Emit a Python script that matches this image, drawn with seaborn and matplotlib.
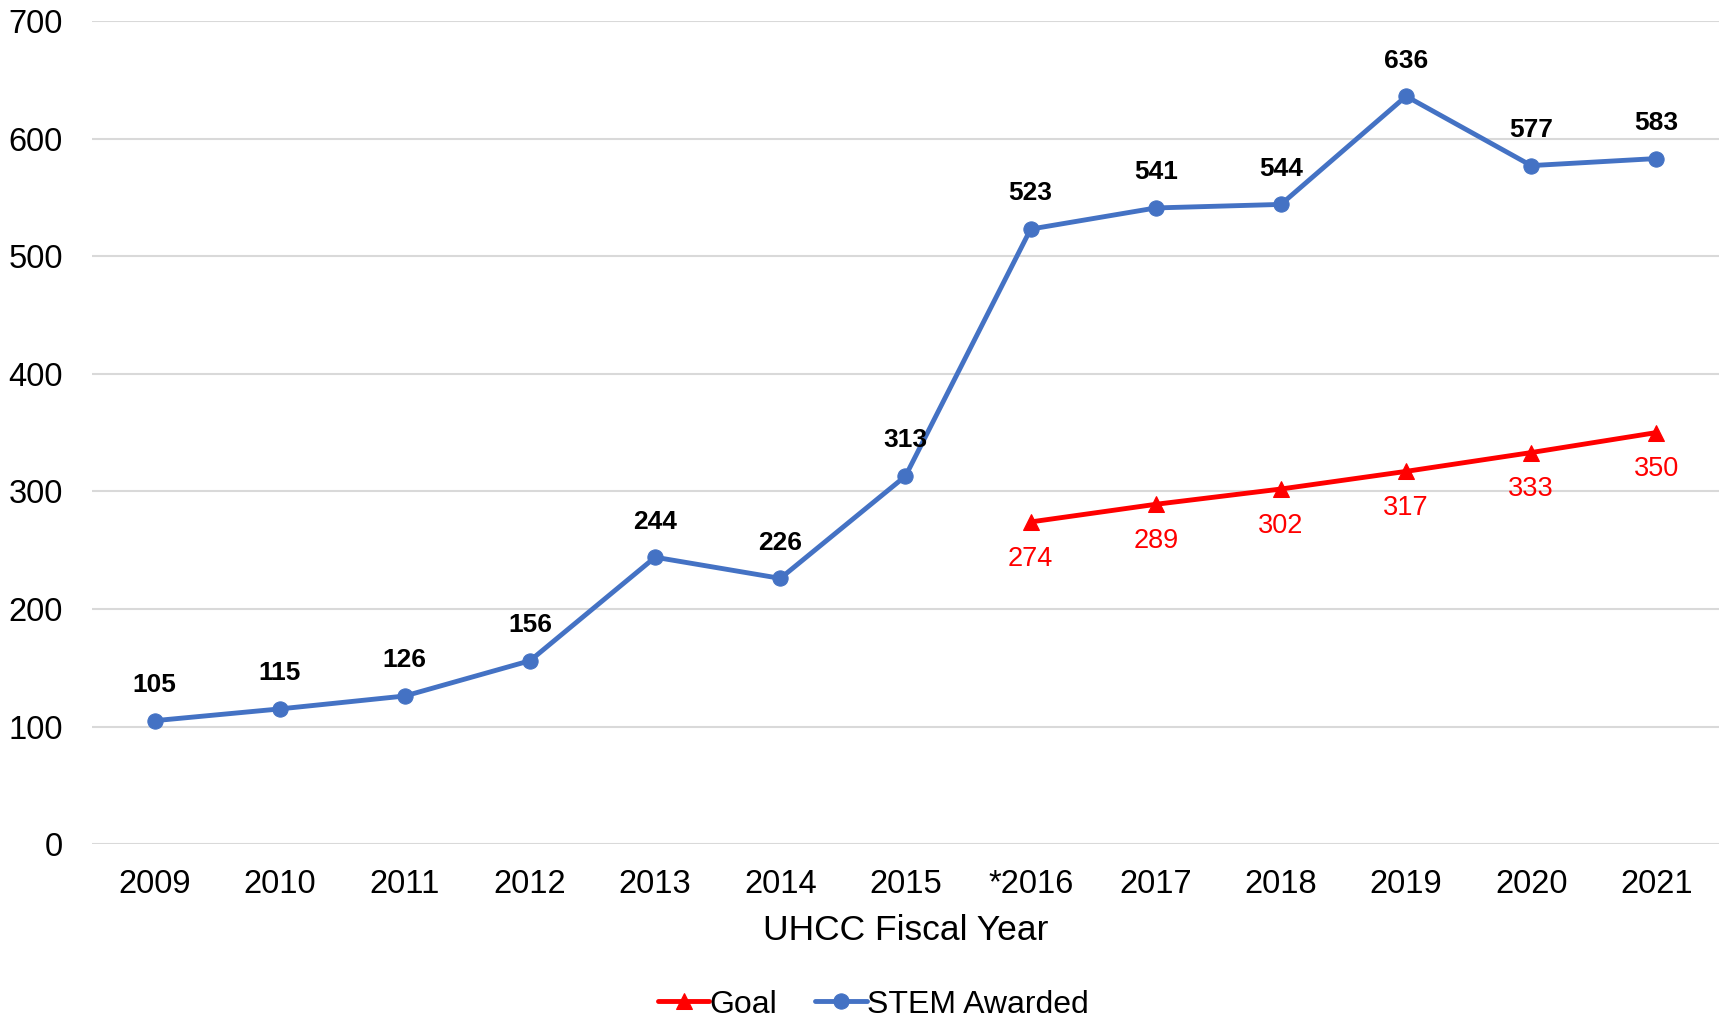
import numpy as np
import pandas as pd
import matplotlib
matplotlib.use("Agg")
import matplotlib.pyplot as plt
import seaborn as sns

years = ["2009", "2010", "2011", "2012", "2013", "2014", "2015",
         "*2016", "2017", "2018", "2019", "2020", "2021"]
stem = [105, 115, 126, 156, 244, 226, 313, 523, 541, 544, 636, 577, 583]
goal_years = ["*2016", "2017", "2018", "2019", "2020", "2021"]
goal = [274, 289, 302, 317, 333, 350]

blue = "#4472C4"
red = "#FF0000"

sns.set_style("white")
plt.rcParams['font.family'] = ['Liberation Sans', 'DejaVu Sans']
plt.rcParams['text.color'] = 'black'
plt.rcParams['xtick.color'] = 'black'
plt.rcParams['ytick.color'] = 'black'
plt.rcParams['axes.labelcolor'] = 'black'

pos = {y: i for i, y in enumerate(years)}
stem_df = pd.DataFrame({"x": [pos[y] for y in years], "v": stem})
goal_df = pd.DataFrame({"x": [pos[y] for y in goal_years], "v": goal})

fig = plt.figure(figsize=(17.19, 10.22), dpi=100)
ax = fig.add_axes([0.0535, 0.174, 0.9465, 0.8055])

sns.lineplot(data=goal_df, x="x", y="v", ax=ax, color=red, linewidth=3.5,
             marker="^", markersize=12, markeredgecolor=red, label="Goal")
sns.lineplot(data=stem_df, x="x", y="v", ax=ax, color=blue, linewidth=3.5,
             marker="o", markersize=11, markeredgecolor=blue, label="STEM Awarded")

for x, v in zip(stem_df["x"], stem_df["v"]):
    ax.annotate(str(v), (x, v), xytext=(0, 17), textcoords="offset points",
                ha="center", va="bottom", fontsize=19, fontweight="bold", color="black")
for x, v in zip(goal_df["x"], goal_df["v"]):
    ax.annotate(str(v), (x, v), xytext=(0, -17), textcoords="offset points",
                ha="center", va="top", fontsize=19.5, color=red)

ax.set_xlim(-0.5, len(years) - 0.5)
ax.set_ylim(0, 700)
ax.set_yticks(range(0, 701, 100))
ax.set_xticks(range(len(years)))
ax.set_xticklabels(years)
ax.tick_params(axis="both", labelsize=23.5, length=0)
ax.tick_params(axis="x", pad=18)
ax.tick_params(axis="y", pad=21)
ax.grid(axis="y", color="#d9d9d9", linewidth=1.5)
ax.set_axisbelow(True)
for s in ax.spines.values():
    s.set_visible(False)
ax.set_xlabel("UHCC Fiscal Year", fontsize=25.5, labelpad=10)
ax.set_ylabel("")

ax.get_legend().remove()
h, l = ax.get_legend_handles_labels()
fig.legend(h, l, loc="center", bbox_to_anchor=(0.508, 0.017), ncol=2,
           frameon=False, fontsize=23, handlelength=1.6, handletextpad=0.0,
           columnspacing=1.2)

fig.savefig("out.png", dpi=100)
